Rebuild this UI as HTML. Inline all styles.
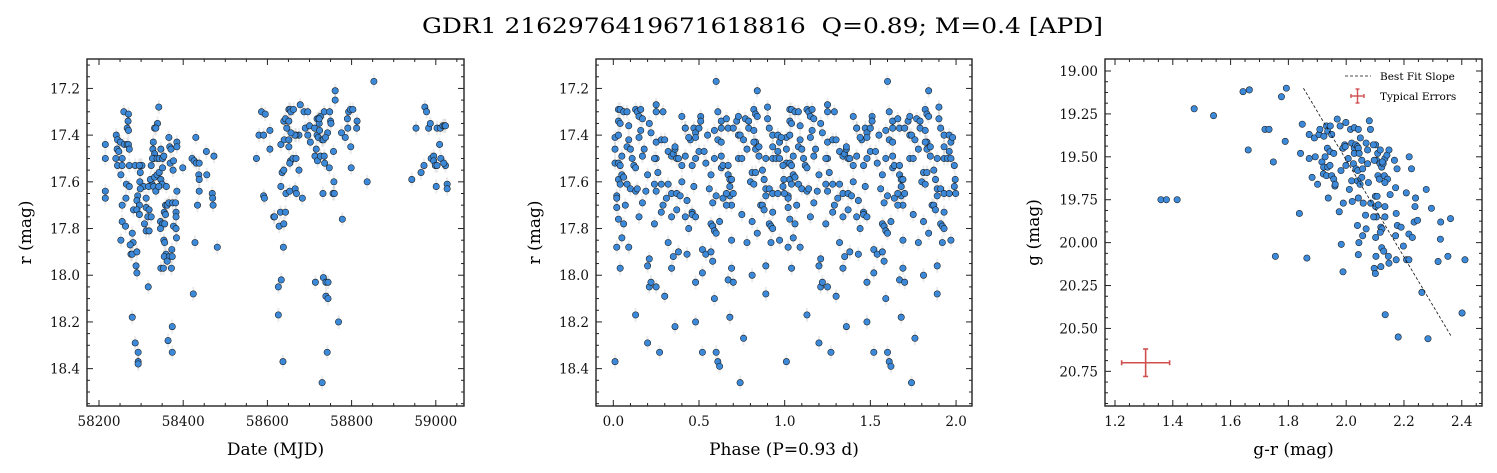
<!DOCTYPE html>
<html><head><meta charset="utf-8"><style>
body{margin:0;background:#fff;}
svg{display:block;font-family:"DejaVu Serif","Liberation Serif",serif;}
</style></head><body>
<svg id="fig" width="1497" height="473" viewBox="0 0 1497 473" xmlns="http://www.w3.org/2000/svg">
<text x="422" y="33" font-size="21" style="white-space:pre" textLength="681" lengthAdjust="spacingAndGlyphs">GDR1 2162976419671618816  Q=0.89; M=0.4 [APD]</text>
</svg>
<script>
// ---- Panel 1: light curve (MJD, r mag)
const lcDate=[58215,58215,58215,58215,58241,58244,58251,58260,58267,58270,58272,58243,58247,58255,58240,58244,58255,58252,58265,58272,58264,58255,58255,58263,58252,58259,58270,58269,58267,58270,58279,58281,58274,58276,58279,58290,58288,58290,58272,58286,58298,58302,58296,58298,58297,58306,58298,58292,58290,58296,58282,58290,58296,58312,58312,58319,58316,58324,58308,58312,58319,58317,58279,58286,58293,58293,58293,58342,58339,58332,58335,58329,58328,58332,58330,58324,58326,58318,58322,58332,58338,58343,58351,58347,58350,58360,58330,58335,58342,58327,58338,58343,58351,58347,58354,58366,58368,58371,58385,58385,58369,58377,58376,58385,58358,58362,58366,58375,58382,58355,58358,58383,58383,58346,58351,58356,58346,58377,58383,58384,58354,58356,58373,58359,58355,58367,58362,58374,58347,58353,58372,58374,58364,58374,58399,58421,58426,58431,58430,58438,58437,58438,58455,58456,58473,58438,58434,58469,58470,58471,58428,58481,58424,
58574,58580,58591,58586,58595,58606,58606,58591,58593,58615,58617,58628,58631,58639,58643,58632,58638,58633,58626,58626,58637,58635,58639,58632,58640,58651,58651,58655,58653,58661,58668,58644,58653,58666,58669,58675,58683,58639,58643,58646,58651,58651,58654,58656,58662,58675,58678,58687,58690,58696,58700,58702,58712,58718,58722,58726,58723,58718,58721,58724,58735,58748,58750,58751,58743,58730,58733,58738,58716,58713,58719,58726,58735,58736,58723,58696,58668,58665,58656,58747,58758,58756,58759,58757,58761,58761,58776,58785,58790,58791,58793,58797,58803,58813,58812,58798,58799,58778,58732,58714,58733,58739,58744,58739,58744,58742,58730,58769,58837,58853,
58943,58953,58965,58972,58974,58978,58983,58987,58989,58995,58995,59001,59003,59009,59012,59011,59017,59021,59023,59023,58999,59003,59027,59027,59019];
const lcMag=[17.44,17.50,17.64,17.67,17.40,17.42,17.43,17.44,17.44,17.44,17.46,17.46,17.47,17.50,17.50,17.53,17.53,17.57,17.61,17.62,17.67,17.70,17.77,17.79,17.85,17.30,17.31,17.34,17.37,17.38,17.82,17.86,17.87,17.91,17.91,17.90,17.96,17.99,17.53,17.53,17.53,17.53,17.53,17.56,17.60,17.62,17.63,17.66,17.68,17.70,17.72,17.72,17.74,17.67,17.71,17.72,17.75,17.75,17.78,17.81,17.81,18.05,18.18,18.29,18.33,18.37,18.38,17.28,17.35,17.37,17.37,17.43,17.46,17.48,17.50,17.53,17.61,17.62,17.59,17.58,17.57,17.56,17.54,17.59,17.61,17.62,17.62,17.64,17.62,17.50,17.50,17.50,17.50,17.46,17.49,17.41,17.45,17.46,17.43,17.45,17.52,17.51,17.55,17.64,17.70,17.70,17.69,17.69,17.69,17.73,17.74,17.73,17.75,17.77,17.78,17.78,17.80,17.79,17.80,17.84,17.85,17.86,17.89,17.91,17.92,17.92,17.94,17.92,17.97,17.97,17.97,18.22,18.28,18.33,17.54,17.50,17.51,17.52,17.41,17.52,17.57,17.59,17.47,17.57,17.49,17.64,17.70,17.65,17.67,17.70,17.86,17.88,18.08,
17.50,17.40,17.40,17.30,17.31,17.38,17.46,17.66,17.67,17.75,17.75,17.79,17.73,17.78,17.73,17.62,17.88,18.02,18.05,18.17,18.37,17.56,17.55,17.44,17.42,17.42,17.45,17.51,17.52,17.50,17.50,17.65,17.64,17.63,17.65,17.55,17.67,17.34,17.33,17.37,17.34,17.29,17.29,17.30,17.29,17.40,17.27,17.30,17.37,17.30,17.36,17.43,17.37,17.33,17.33,17.32,17.35,17.40,17.41,17.38,17.30,17.30,17.34,17.35,17.39,17.42,17.42,17.41,17.46,17.49,17.51,17.49,17.49,17.52,17.33,17.40,17.40,17.40,17.39,17.54,17.60,17.65,17.65,17.47,17.25,17.21,17.39,17.41,17.33,17.37,17.30,17.29,17.29,17.34,17.37,17.45,17.54,17.76,17.65,18.03,18.01,18.03,18.03,18.09,18.10,18.33,18.46,18.20,17.60,17.17,
17.59,17.37,17.56,17.53,17.28,17.30,17.37,17.35,17.50,17.49,17.51,17.62,17.37,17.44,17.50,17.37,17.36,17.36,17.36,17.53,17.53,17.53,17.61,17.63,17.52];
// ---- Panel 2: phased light curve (phase 0-1, plotted twice)
const phase=[0.01,0.01,0.01,0.01,0.02,0.02,0.02,0.03,0.02,0.04,0.05,0.06,0.03,0.04,0.03,0.04,0.03,0.03,0.04,0.03,0.05,0.05,0.06,0.04,0.06,0.08,0.09,0.09,0.08,0.10,0.07,0.09,0.08,0.10,0.11,0.12,0.13,0.13,0.14,0.13,0.14,0.16,0.15,0.17,0.16,0.15,0.18,0.17,0.13,0.15,0.17,0.19,0.20,0.20,0.21,0.21,0.22,0.25,0.30,0.20,0.27,0.24,0.25,0.25,0.29,0.21,0.22,0.25,0.28,0.30,0.25,0.24,0.26,0.24,0.25,0.28,0.32,0.29,0.28,0.31,0.34,0.34,0.32,0.35,0.34,0.38,0.36,0.32,0.34,0.35,0.36,0.36,0.37,0.38,0.40,0.37,0.37,0.39,0.40,0.42,0.42,0.43,0.42,0.46,0.46,0.48,0.44,0.43,0.47,0.40,0.42,0.45,0.44,0.47,0.48,0.50,0.48,0.48,0.46,0.50,0.48,0.48,0.52,0.52,0.52,0.54,0.57,0.58,0.59,0.60,0.61,0.62,0.51,0.51,0.55,0.53,0.54,0.56,0.57,0.59,0.58,0.57,0.58,0.59,0.60,0.60,0.62,0.60,0.61,0.59,0.61,0.63,0.64,0.63,0.63,0.63,0.63,0.66,0.67,0.67,0.67,0.68,0.68,0.68,0.69,0.70,0.69,0.64,0.66,0.66,0.69,0.69,0.67,0.70,0.68,0.74,0.76,0.75,0.70,0.72,0.73,0.73,0.74,0.73,0.75,0.76,0.78,0.77,0.79,0.79,0.82,0.83,0.82,0.78,0.81,0.81,0.80,0.81,0.82,0.83,0.83,0.83,0.85,0.85,0.84,0.82,0.84,0.86,0.87,0.88,0.89,0.89,0.88,0.87,0.89,0.89,0.89,0.84,0.91,0.92,0.92,0.93,0.93,0.91,0.93,0.93,0.96,0.90,0.90,0.91,0.93,0.93,0.96,0.96,0.97,0.98,0.95,0.97,0.97,0.99,0.995,0.99,0.998];
const phaseMag=[18.37,17.41,17.46,17.52,17.66,17.67,17.71,17.76,17.88,17.97,17.84,17.78,17.29,17.29,17.34,17.35,17.40,17.52,17.53,17.59,17.57,17.49,17.58,17.61,17.30,17.30,17.36,17.42,17.45,17.46,17.70,17.88,17.61,17.63,17.50,17.53,17.54,17.64,17.63,17.29,17.30,17.29,17.32,17.33,17.38,17.41,17.46,17.49,18.17,17.75,17.69,17.64,17.57,17.96,17.93,18.05,18.03,18.05,18.09,18.29,18.33,17.78,17.27,17.30,17.30,17.35,17.39,17.43,17.42,17.42,17.50,17.50,17.56,17.61,17.64,17.61,17.61,17.70,17.73,17.67,17.75,17.65,17.86,17.92,17.97,17.90,18.22,17.47,17.49,17.48,17.46,17.45,17.50,17.50,17.53,17.65,17.72,17.66,17.60,17.37,17.49,17.68,17.75,17.73,17.74,17.75,17.80,17.91,17.62,17.32,17.37,17.42,17.41,17.37,17.39,17.37,17.41,17.50,17.53,17.47,18.03,18.20,18.33,17.99,17.89,17.91,17.90,17.94,18.10,18.33,18.37,18.39,17.32,17.34,17.40,17.47,17.52,17.63,17.57,17.50,17.69,17.78,17.79,17.81,17.82,17.66,17.77,17.17,17.30,17.38,17.42,17.54,17.53,17.49,17.34,17.43,17.37,17.33,17.37,17.53,17.57,17.59,17.62,17.66,17.59,17.65,17.70,17.67,17.70,17.65,17.85,17.97,18.02,18.03,18.18,18.46,18.27,17.74,17.37,17.34,17.40,17.32,17.40,17.50,17.50,17.42,17.46,17.33,17.34,17.37,17.29,17.31,17.38,17.86,17.77,18.00,17.60,17.56,17.61,17.56,17.43,17.46,17.45,17.49,17.21,17.43,17.32,17.70,17.70,17.72,17.66,17.63,17.59,17.55,17.50,17.96,18.08,17.82,17.78,17.79,17.86,17.80,17.50,17.63,17.65,17.73,17.65,17.28,17.33,17.37,17.40,17.45,17.40,17.47,17.43,17.41,17.50,17.85,17.50,17.53,17.59,17.62,17.65];
// ---- Panel 3: colour-magnitude (g-r, g)
const gr=[1.474,1.541,1.643,1.665,1.776,1.793,1.661,1.719,1.733,1.789,1.748,1.359,1.378,1.415,1.838,1.755,1.864,1.842,1.848,1.872,1.872,1.882,1.893,1.901,1.890,1.906,1.909,1.923,1.932,1.936,1.945,1.950,1.969,1.979,1.999,2.015,2.028,2.042,2.080,2.084,2.049,1.916,1.922,1.927,1.936,1.944,1.935,1.944,1.957,1.921,1.932,1.950,1.957,1.961,1.962,1.938,1.976,1.983,1.989,1.982,1.990,1.989,1.995,1.997,1.999,2.007,2.019,2.021,2.011,2.019,2.028,2.033,2.039,2.042,2.028,2.045,2.025,2.034,2.040,2.054,2.057,2.054,2.039,2.048,2.042,2.059,2.067,2.077,2.074,2.069,2.102,2.074,2.094,2.109,2.118,2.105,2.097,2.117,2.123,2.128,2.134,2.141,2.148,2.167,2.176,2.110,2.115,2.132,2.143,2.125,2.134,2.152,2.171,2.101,2.107,2.085,2.102,2.111,2.134,2.173,2.105,2.134,2.095,2.039,2.120,2.124,2.118,2.102,2.069,2.057,2.044,2.177,2.190,2.171,2.217,2.229,2.198,2.123,2.130,2.146,2.173,2.209,2.217,2.042,2.103,2.097,2.101,2.120,2.148,2.208,2.240,2.238,2.235,2.247,2.218,2.226,2.277,2.295,2.327,2.361,2.326,2.318,2.352,2.411,2.262,2.401,2.135,2.180,2.283];
const gMag=[19.22,19.26,19.12,19.11,19.15,19.10,19.46,19.34,19.34,19.41,19.53,19.75,19.75,19.75,19.83,20.08,20.09,19.48,19.31,19.37,19.51,19.62,19.50,19.66,19.39,19.37,19.34,19.38,19.32,19.35,19.32,19.37,19.28,19.32,19.30,19.34,19.33,19.34,19.29,19.34,19.39,19.53,19.56,19.50,19.56,19.55,19.45,19.47,19.48,19.60,19.61,19.61,19.63,19.67,19.66,19.74,19.82,20.01,20.17,19.58,19.77,19.45,19.43,19.44,19.55,19.51,19.64,19.76,19.69,19.42,19.45,19.43,19.44,19.45,19.48,19.48,19.54,19.57,19.58,19.52,19.57,19.62,19.64,19.66,19.74,19.77,19.84,19.65,19.54,19.42,19.43,19.46,19.43,19.48,19.46,19.52,19.52,19.54,19.56,19.54,19.51,19.49,19.46,19.52,19.57,19.61,19.63,19.61,19.63,19.53,19.65,19.72,19.68,19.73,19.73,19.77,19.79,19.78,19.79,19.83,19.85,19.85,19.85,19.90,19.91,19.92,19.94,19.97,19.92,19.96,20.00,19.90,19.91,19.96,19.95,19.97,20.02,20.03,20.05,20.08,20.10,20.10,20.10,20.07,20.08,20.15,20.18,20.14,20.12,19.71,19.74,19.79,19.88,19.87,19.50,19.57,19.69,19.80,19.88,19.86,19.98,20.11,20.08,20.10,20.29,20.41,20.42,20.55,20.56];
const fitX=[1.852,2.365];
const fitY=[19.10,20.55];
const errCenter=[1.306,20.70];
const errSize=[0.083,0.08];

const NS="http://www.w3.org/2000/svg";
const svg=document.getElementById('fig');
function el(tag,attrs,parent){const e=document.createElementNS(NS,tag);for(const k in attrs)e.setAttribute(k,attrs[k]);(parent||svg).appendChild(e);return e;}

function makeAxes(cfg){
  const g=el('g',{});
  
  
  const sx=v=>cfg.x0+(v-cfg.xmin)/(cfg.xmax-cfg.xmin)*(cfg.x1-cfg.x0);
  const sy=v=>cfg.y0+(v-cfg.ymin)/(cfg.ymax-cfg.ymin)*(cfg.y1-cfg.y0);
  const tg=el('g',{stroke:'#222','stroke-width':1},g);
  for(let v=cfg.xMinorStart;v<=cfg.xmax+1e-9;v+=cfg.xMinor){
    if(v<cfg.xmin)continue;
    const x=sx(v);const maj=Math.abs((v-cfg.xMajorStart)/cfg.xMajor-Math.round((v-cfg.xMajorStart)/cfg.xMajor))<1e-6;
    const L=maj?6:3;
    el('line',{x1:x,x2:x,y1:cfg.y1,y2:cfg.y1-L},tg);el('line',{x1:x,x2:x,y1:cfg.y0,y2:cfg.y0+L},tg);
    if(maj){const t=el('text',{x:x,y:cfg.y1+20,'text-anchor':'middle','font-size':13.5,stroke:'none',fill:'#111'},g);t.textContent=v.toFixed(cfg.xDec);
      
      }
  }
  for(let v=cfg.yMinorStart;v<=cfg.ymax+1e-9;v+=cfg.yMinor){
    if(v<cfg.ymin)continue;
    const y=sy(v);const maj=Math.abs((v-cfg.yMajorStart)/cfg.yMajor-Math.round((v-cfg.yMajorStart)/cfg.yMajor))<1e-6;
    const L=maj?6:3;
    el('line',{x1:cfg.x0,x2:cfg.x0+L,y1:y,y2:y},tg);el('line',{x1:cfg.x1,x2:cfg.x1-L,y1:y,y2:y},tg);
    if(maj){const t=el('text',{x:cfg.x0-7,y:y+5,'text-anchor':'end','font-size':13.5,stroke:'none',fill:'#111'},g);t.textContent=v.toFixed(cfg.yDec);
      
      }
  }
  const fr=el('rect',{x:cfg.x0,y:cfg.y0,width:cfg.x1-cfg.x0,height:cfg.y1-cfg.y0,fill:'none',stroke:'#222','stroke-width':1.4},g);
  
  
  const xl=el('text',{x:(cfg.x0+cfg.x1)/2,y:455,'text-anchor':'middle','font-size':17},g);xl.textContent=cfg.xlabel;
  
  
  const yl=el('text',{x:0,y:0,'text-anchor':'middle','font-size':17,transform:`translate(${cfg.ylx},${(cfg.y0+cfg.y1)/2}) rotate(-90)`},g);yl.textContent=cfg.ylabel;
  
  
  return {g,sx,sy};
}
function dot(ax,x,y,err){
  const X=ax.sx(x),Y=ax.sy(y);
  if(err){const e=el('line',{x1:X,x2:X,y1:ax.sy(y-err),y2:ax.sy(y+err),stroke:'#000','stroke-opacity':0.08,'stroke-width':2},ax.g);
    
    }
  const c=el('circle',{cx:X,cy:Y,r:3.2,fill:'#3b89d8',stroke:'#1b1b1b','stroke-width':0.55},ax.g);
  
  
}

const ax1=makeAxes({name:'light-curve-panel',x0:87,x1:464,y0:59,y1:406,xmin:58171.5,xmax:59067,ymin:17.074,ymax:18.56,
  xMajor:200,xMajorStart:58200,xMinor:50,xMinorStart:58200,xDec:0,yMajor:0.2,yMajorStart:17.2,yMinor:0.05,yMinorStart:17.1,yDec:1,
  xlabel:'Date (MJD)',ylabel:'r (mag)',ylx:31});
for(let i=0;i<lcDate.length;i++)dot(ax1,lcDate[i],lcMag[i],0.03);

const ax2=makeAxes({name:'phase-panel',x0:596,x1:972,y0:59,y1:406,xmin:-0.101,xmax:2.093,ymin:17.074,ymax:18.56,
  xMajor:0.5,xMajorStart:0,xMinor:0.1,xMinorStart:0,xDec:1,yMajor:0.2,yMajorStart:17.2,yMinor:0.05,yMinorStart:17.1,yDec:1,
  xlabel:'Phase (P=0.93 d)',ylabel:'r (mag)',ylx:540});
for(let i=0;i<phase.length;i++){dot(ax2,phase[i],phaseMag[i],0.03);dot(ax2,phase[i]+1,phaseMag[i],0.03);}

const ax3=makeAxes({name:'color-magnitude-panel',x0:1105,x1:1482,y0:59,y1:406,xmin:1.1654,xmax:2.470,ymin:18.930,ymax:20.952,
  xMajor:0.2,xMajorStart:1.2,xMinor:0.05,xMinorStart:1.2,xDec:1,yMajor:0.25,yMajorStart:19,yMinor:0.0625,yMinorStart:19,yDec:2,
  xlabel:'g-r (mag)',ylabel:'g (mag)',ylx:1039});
for(let i=0;i<gr.length;i++)dot(ax3,gr[i],gMag[i],0);
const fit=el('line',{x1:ax3.sx(fitX[0]),y1:ax3.sy(fitY[0]),x2:ax3.sx(fitX[1]),y2:ax3.sy(fitY[1]),stroke:'#111','stroke-width':0.8,'stroke-dasharray':'3,2'},ax3.g);


const eg=el('g',{stroke:'#d0504f','stroke-width':1.6},ax3.g);


{const cx=ax3.sx(errCenter[0]),cy=ax3.sy(errCenter[1]),xa=ax3.sx(errCenter[0]-errSize[0]),xb=ax3.sx(errCenter[0]+errSize[0]),ya=ax3.sy(errCenter[1]-errSize[1]),yb=ax3.sy(errCenter[1]+errSize[1]);
el('line',{x1:xa,x2:xb,y1:cy,y2:cy},eg);el('line',{x1:cx,x2:cx,y1:ya,y2:yb},eg);
el('line',{x1:xa,x2:xa,y1:cy-2.5,y2:cy+2.5},eg);el('line',{x1:xb,x2:xb,y1:cy-2.5,y2:cy+2.5},eg);
el('line',{x1:cx-2.5,x2:cx+2.5,y1:ya,y2:ya},eg);el('line',{x1:cx-2.5,x2:cx+2.5,y1:yb,y2:yb},eg);}
const lg=el('g',{},ax3.g);


el('line',{x1:1345,x2:1371,y1:76,y2:76,stroke:'#111','stroke-width':0.8,'stroke-dasharray':'3,2'},lg);
const t1=el('text',{x:1380,y:80,'font-size':10.5},lg);t1.textContent='Best Fit Slope';


const lge=el('g',{stroke:'#d0504f','stroke-width':1.4},lg);
el('line',{x1:1351,x2:1364,y1:96,y2:96},lge);el('line',{x1:1357.5,x2:1357.5,y1:89,y2:103},lge);
el('line',{x1:1351,x2:1351,y1:94,y2:98},lge);el('line',{x1:1364,x2:1364,y1:94,y2:98},lge);
el('line',{x1:1355.5,x2:1359.5,y1:89,y2:89},lge);el('line',{x1:1355.5,x2:1359.5,y1:103,y2:103},lge);
const t2=el('text',{x:1380,y:100,'font-size':10.5},lg);t2.textContent='Typical Errors';


</script>
</body></html>
